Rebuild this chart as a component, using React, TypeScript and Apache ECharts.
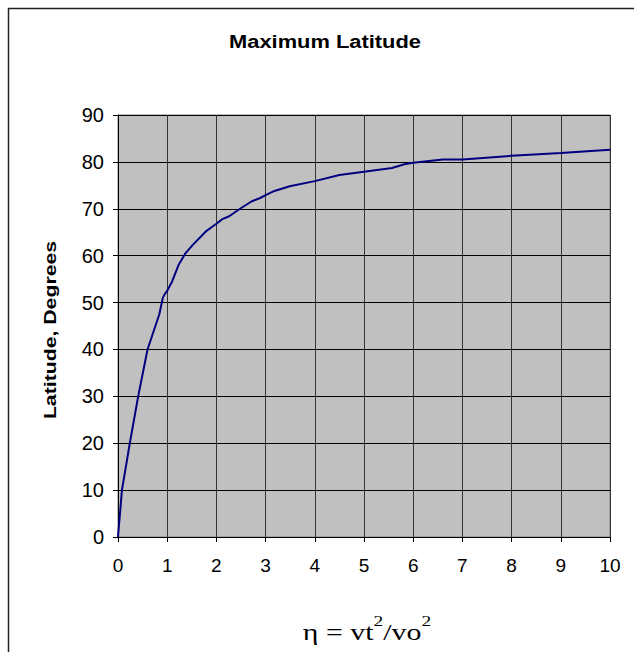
import React, { useEffect, useRef } from "react";
import * as echarts from "echarts";

// eta = vt^2/vo^2 values along the curve
const etaValues = [0, 0.08, 0.24, 0.41, 0.6, 0.84, 0.91, 0.95, 1.0, 1.1, 1.23, 1.37, 1.52, 1.8, 2.0, 2.12, 2.26, 2.48, 2.72, 2.89, 3.0, 3.18, 3.49, 4.0, 4.5, 5.0, 5.57, 5.82, 6.0, 6.6, 7.0, 8.0, 9.0, 10.0];
// maximum latitude in degrees
const latitudeValues = [0, 10, 20, 30, 40, 47.5, 51, 51.8, 52.5, 54.5, 58, 60.5, 62.3, 65.3, 66.8, 67.8, 68.4, 70, 71.6, 72.3, 72.9, 73.8, 74.8, 75.9, 77.2, 77.9, 78.7, 79.5, 79.8, 80.5, 80.5, 81.3, 81.9, 82.6];

const titleText = "Maximum Latitude";
const yAxisTitle = "Latitude, Degrees";
const xAxisTitle = "{a|η = vt}{s|2}{a|/vo}{s|2}";

export default function App() {
  const ref = useRef<HTMLDivElement>(null);
  useEffect(() => {
    if (!ref.current) return;
    const chart = echarts.init(ref.current, undefined, { renderer: "svg" });
    const data = etaValues.map((x, i) => [x, latitudeValues[i]]);
    chart.setOption({
      animation: false,
      backgroundColor: "#ffffff",
      graphic: [
        {
          type: "rect",
          shape: { x: 8.5, y: 8.5, width: 700, height: 700 },
          style: { fill: "none", stroke: "#222", lineWidth: 1.5 },
          silent: true,
          z: 100,
        },
        {
          type: "text",
          x: 325,
          y: 41,
          scaleX: 1.15,
          style: {
            text: titleText,
            fontFamily: "Liberation Sans",
            fontWeight: "bold",
            fontSize: 19,
            fill: "#000",
            align: "center",
            verticalAlign: "middle",
          },
        },
        {
          type: "text",
          x: 50,
          y: 330,
          rotation: Math.PI / 2,
          scaleX: 1.25,
          style: {
            text: yAxisTitle,
            fontFamily: "Liberation Sans",
            fontWeight: "bold",
            fontSize: 17,
            fill: "#000",
            align: "center",
            verticalAlign: "middle",
          },
        },
        {
          type: "text",
          x: 367,
          y: 629,
          scaleX: 1.3,
          style: {
            text: xAxisTitle,
            align: "center",
            verticalAlign: "middle",
            rich: {
              a: { fontFamily: "Liberation Serif", fontSize: 23, fill: "#000", verticalAlign: "bottom", lineHeight: 30 },
              s: { fontFamily: "Liberation Serif", fontSize: 15, fill: "#000", verticalAlign: "top", lineHeight: 30 },
            },
          },
        },
      ],
      grid: {
        left: 118,
        top: 115,
        width: 492,
        height: 422,
        show: true,
        backgroundColor: "#C0C0C0",
        borderColor: "#808080",
        borderWidth: 1,
      },
      xAxis: {
        type: "value",
        min: 0,
        max: 10,
        interval: 1,
        axisLine: { show: true, lineStyle: { color: "#000", width: 1 } },
        axisTick: { show: true, inside: false, length: 5, lineStyle: { color: "#000" } },
        axisLabel: { fontFamily: "Liberation Sans", fontSize: 19, color: "#000", margin: 19 },
        splitLine: { show: true, lineStyle: { color: "#333", width: 1 } },
      },
      yAxis: {
        type: "value",
        min: 0,
        max: 90,
        interval: 10,
        axisLine: { show: true, lineStyle: { color: "#000", width: 1 } },
        axisTick: { show: true, inside: false, length: 5, lineStyle: { color: "#000" } },
        axisLabel: { fontFamily: "Liberation Sans", fontSize: 20, color: "#000", margin: 14 },
        splitLine: { show: true, lineStyle: { color: "#000", width: 1 } },
      },
      series: [
        {
          type: "line",
          data,
          showSymbol: false,
          smooth: false,
          lineStyle: { color: "#000080", width: 2 },
          itemStyle: { color: "#000080" },
        },
      ],
    });
    return () => chart.dispose();
  }, []);
  return <div ref={ref} style={{ position: "fixed", left: 0, top: 0, width: 634, height: 652 }} />;
}
